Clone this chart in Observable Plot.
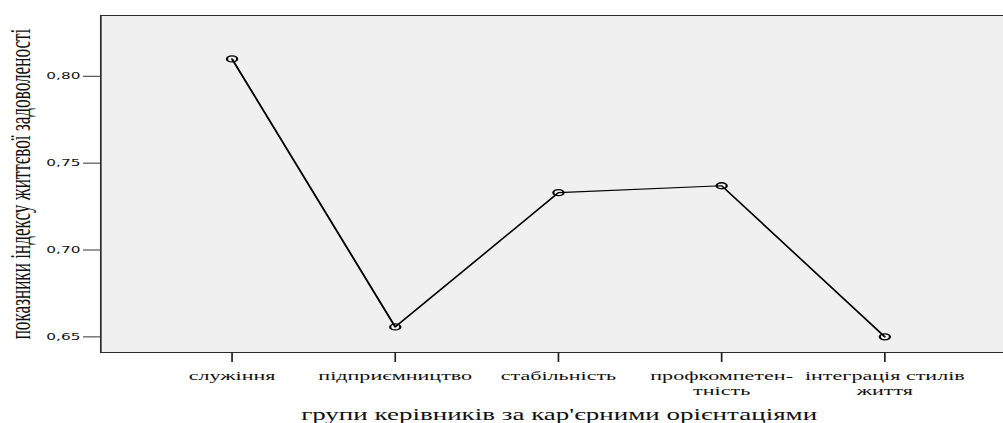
<!DOCTYPE html>
<html>
<head>
<meta charset="utf-8">
<script src="https://cdn.jsdelivr.net/npm/d3@7"></script>
<script src="https://cdn.jsdelivr.net/npm/@observablehq/plot@0.6"></script>
<style>
  html, body { margin: 0; padding: 0; background: #fff; overflow: hidden; }
  #chart { width: 1003px; height: 423px; position: relative; }
  #chart svg { transform: scaleX(1.7); transform-origin: 0 0; display: block; }
</style>
</head>
<body>
<div id="chart"></div>
<script>
const categories = ["служіння", "підприємництво", "стабільність", "профкомпетентність", "інтеграція стилів життя"];
const tickLabels = ["служіння", "підприємництво", "стабільність", "профкомпетен-\nтність", "інтеграція стилів\nжиття"];
const values = [0.810, 0.6557, 0.733, 0.737, 0.650];
const yTicks = [0.65, 0.70, 0.75, 0.80];
const xTitle = "групи керівників за кар'єрними орієнтаціями";
const yTitle = "показники індексу життєвої задоволеності";

const data = categories.map((c, i) => ({cat: c, value: values[i]}));
const labelOf = new Map(categories.map((c, i) => [c, tickLabels[i]]));
const serif = "'Liberation Serif', 'Times New Roman', serif";

const chart = Plot.plot({
  width: 590,
  height: 423,
  marginLeft: 58.8,
  marginRight: 0,
  marginTop: 15,
  marginBottom: 71,
  style: {fontFamily: serif, background: "transparent", color: "#000", overflow: "visible"},
  x: {type: "point", domain: categories, range: [134.1, 521.2], padding: 0},
  y: {domain: [0.641, 0.835]},
  marks: [
    Plot.frame({fill: "#f0f0f0", stroke: "#2b2b2b"}),
    Plot.axisY(yTicks, {
      tickSize: 10, tickPadding: 2,
      tickFormat: d => d3.format(".2f")(d).replace(".", ","),
      fontFamily: "'DejaVu Sans', sans-serif", fontSize: 9, label: null, stroke: "#333", fill: "#111"
    }),
    Plot.axisX({
      tickSize: 10, tickPadding: 7, lineHeight: 1.15,
      tickFormat: d => labelOf.get(d),
      fontFamily: serif, fontSize: 13, label: null, stroke: "#222", fill: "#111"
    }),
    Plot.line(data, {x: "cat", y: "value", stroke: "black", strokeWidth: 1.2}),
    Plot.dot(data, {x: "cat", y: "value", r: 3, stroke: "black", strokeWidth: 1.3, fill: "none"}),
    Plot.text([xTitle], {frameAnchor: "bottom", dx: 4, dy: 67, fontFamily: serif, fontSize: 15.9, text: d => d, fill: "#111"}),
    Plot.text([yTitle], {frameAnchor: "left", textAnchor: "middle", rotate: -90, dx: -47, fontFamily: serif, fontSize: 17.2, text: d => d, fill: "#111"})
  ]
});
document.getElementById("chart").appendChild(chart);
</script>
</body>
</html>
